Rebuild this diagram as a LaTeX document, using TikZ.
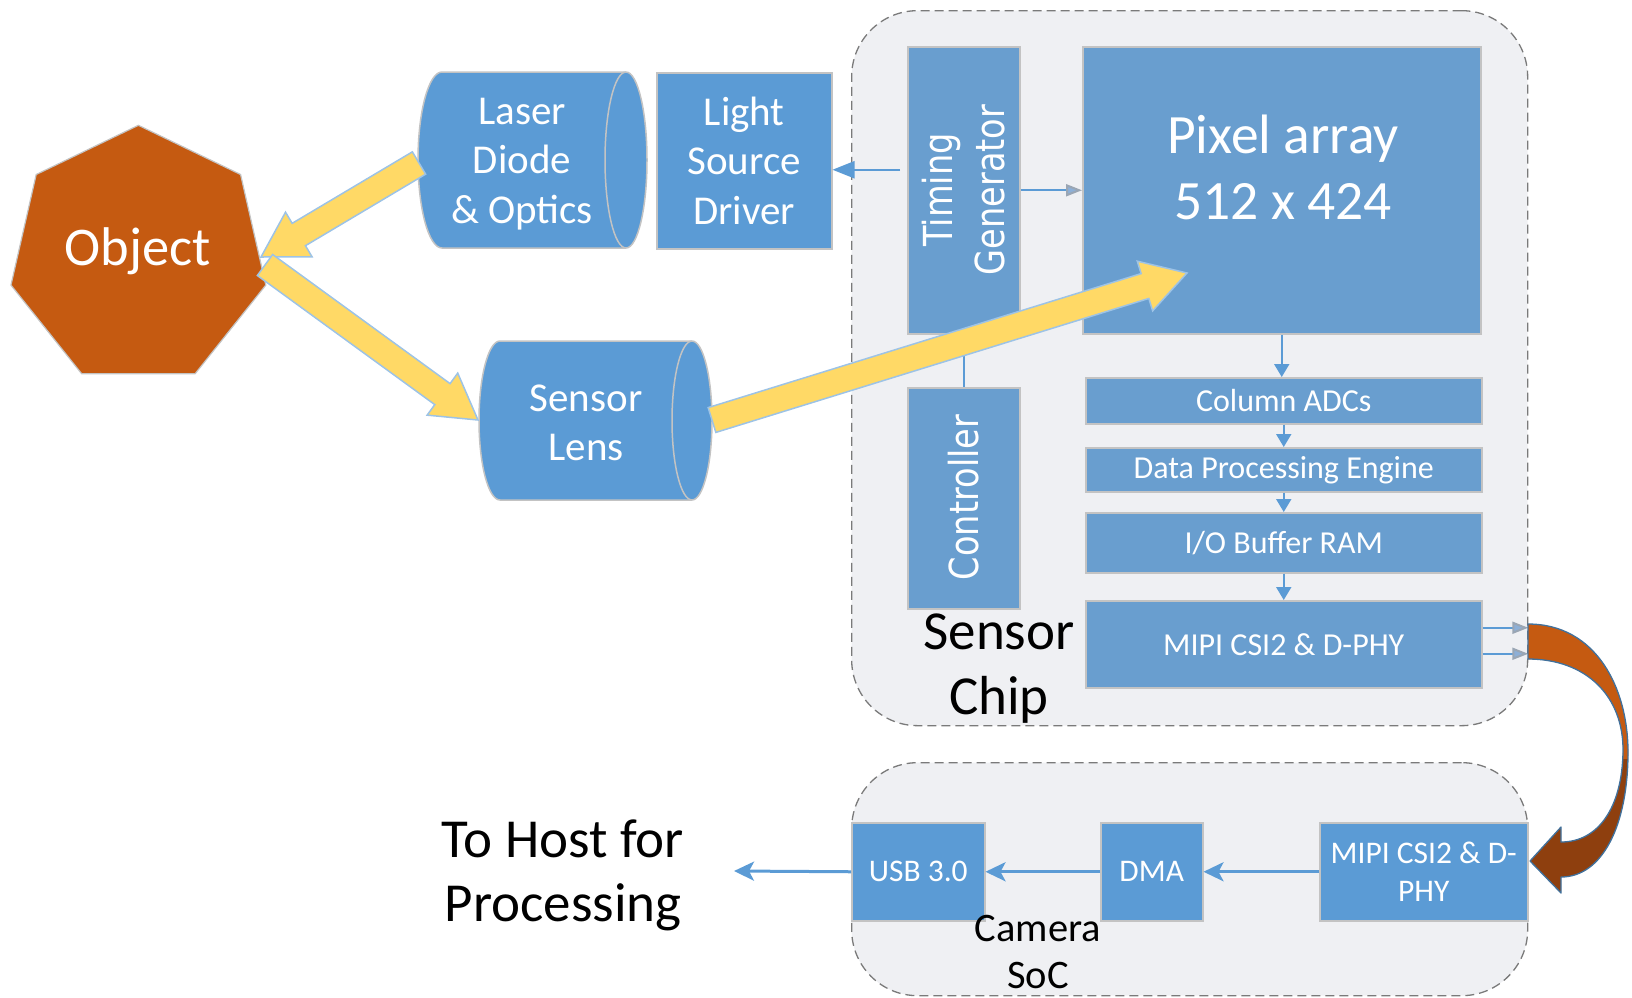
\documentclass[tikz,border=0pt]{standalone}
\usepackage{fontspec}
\setmainfont{Carlito}
\newfontfamily\vertfont[FakeStretch=0.84]{DejaVu Sans}
\usetikzlibrary{arrows.meta,calc}

\definecolor{boxblue}{HTML}{5B9BD5}
\definecolor{chipblue}{HTML}{699ECF}
\definecolor{boxedge}{HTML}{C3C3C3}
\definecolor{panel}{HTML}{EFF0F3}
\definecolor{panelline}{HTML}{7A7A7A}
\definecolor{beamfill}{HTML}{FFD966}
\definecolor{beamedge}{HTML}{9DC3E6}
\definecolor{rust}{HTML}{C55A11}
\definecolor{rustdark}{HTML}{8E3F0E}
\definecolor{rustedge}{HTML}{41719C}
\definecolor{wire}{HTML}{5B9BD5}
\definecolor{tipfill}{HTML}{8DAFD6}
\definecolor{tipedge}{HTML}{9AA6B4}

\newcommand\fs[2]{\fontsize{#1}{#2}\selectfont}

% fat two-sided beam arrow from #1 (tail) to #2 (tip)
\newcommand\beamarrow[2]{%
  \coordinate (bm-c) at ($(#2)!44pt!(#1)$);
  \draw[beam] ($(#1)!13pt!90:(#2)$) -- ($(bm-c)!13pt!90:(#2)$)
    -- ($(bm-c)!26pt!90:(#2)$) -- (#2) -- ($(bm-c)!26pt!-90:(#2)$)
    -- ($(bm-c)!13pt!-90:(#2)$) -- ($(#1)!13pt!-90:(#2)$) -- cycle;}

% outline of the curved link between the two MIPI blocks
\newcommand\bendshape{(1528,624) .. controls (1596,624) and (1628,688) .. (1628,752)
  .. controls (1628,826) and (1602,877) .. (1561,877) -- (1561,893) -- (1530,861)
  -- (1561,827) -- (1561,842) .. controls (1598,842) and (1622,808) .. (1623,752)
  .. controls (1624,696) and (1586,659) .. (1528,659) -- cycle}

\begin{document}
\begin{tikzpicture}[x=1pt,y=-1pt,
  panelbox/.style={draw=panelline, dash pattern=on 9pt off 5pt, line width=1.3pt,
    fill=panel, rounded corners=66pt, inner sep=0pt},
  block/.style={draw=boxedge, line width=1.5pt, fill=boxblue, inner sep=0pt,
    text=white, align=center},
  chipblock/.style={block, fill=chipblue},
  wtext/.style={text=white, align=center, inner sep=0pt},
  vtext/.style={wtext, rotate=90},
  ltext/.style={text=black, align=center, inner sep=0pt},
  beam/.style={fill=beamfill, draw=beamedge, line width=1.5pt, line join=miter},
  wire/.style={draw=wire, line width=2.2pt},
  tipA/.style={wire, -{Triangle[length=22pt,width=17pt]}},
  tipS/.style={wire, line width=2pt, -{Triangle[length=13pt,width=15pt]}},
  tipG/.style={wire, line width=2pt, -{Triangle[length=16pt,width=12pt,color=tipedge,fill=tipfill]}},
  tipB/.style={wire, line width=3pt, -{Stealth[length=20pt,width=19pt,inset=5pt]}},
]
\useasboundingbox (0,0) rectangle (1632,997);

% containers
\node[panelbox, anchor=north west, minimum width=676pt, minimum height=715pt] (chip) at (851,10) {};
\node[panelbox, anchor=north west, minimum width=676pt, minimum height=233pt] (soc) at (851,762) {};

% object
\coordinate (objc) at (138.4,256);
\draw[fill=rust, draw=boxedge, line width=1.2pt] (objc) +(90:130.7pt) -- +(141.43:130.7pt)
  -- +(192.86:130.7pt) -- +(244.29:130.7pt) -- +(295.71:130.7pt) -- +(347.14:130.7pt)
  -- +(38.57:130.7pt) -- cycle;
\node[wtext, font=\fs{54.5}{60}] (obj) at (138,251) {Object};

% laser diode and optics
\draw[block] (442,72) -- (626,72) arc[start angle=90, end angle=-90, x radius=21pt, y radius=88pt]
  -- (442,248) arc[start angle=270, end angle=90, x radius=24pt, y radius=88pt] -- cycle;
\draw[draw=boxedge, line width=1.5pt] (626,72) arc[start angle=90, end angle=270, x radius=21pt, y radius=88pt];
\node[wtext, font=\fs{41}{49.5}] (laser) at (522,164) {Laser\\Diode\\\& Optics};

% sensor lens
\draw[block] (500,341) -- (692,341) arc[start angle=90, end angle=-90, x radius=20pt, y radius=79.5pt]
  -- (500,500) arc[start angle=270, end angle=90, x radius=21pt, y radius=79.5pt] -- cycle;
\draw[draw=boxedge, line width=1.5pt] (692,341) arc[start angle=90, end angle=270, x radius=20pt, y radius=79.5pt];
\node[wtext, font=\fs{41}{49.5}] (lens) at (586,423) {Sensor\\Lens};

% light source driver
\node[block, anchor=north west, minimum width=175pt, minimum height=176pt, font=\fs{41}{49.5}] (lsd) at (656,72) {Light\\Source\\Driver};

% sensor chip blocks
\node[chipblock, anchor=north west, minimum width=112pt, minimum height=287pt] (tg) at (907,46) {};
\node[vtext, font=\vertfont\fs{40}{51.5}] (tgtxt) at (963.5,190) {Timing\\Generator};
\node[chipblock, anchor=north west, minimum width=398pt, minimum height=287pt] (pix) at (1082,46) {};
\node[wtext, font=\fs{55.5}{66}] (pixtxt) at (1283,167) {Pixel array\\512 x 424};
\node[chipblock, anchor=north west, minimum width=112pt, minimum height=221pt] (ctl) at (907,387) {};
\node[vtext, font=\vertfont\fs{40}{48}] (ctltxt) at (964,497.5) {Controller};
\node[chipblock, anchor=north west, minimum width=396pt, minimum height=46pt, font=\fs{32}{38}] (adc) at (1085,377) {Column ADCs};
\node[chipblock, anchor=north west, minimum width=396pt, minimum height=44pt, font=\fs{32}{38}] (dpe) at (1085,447) {Data Processing Engine};
\node[chipblock, anchor=north west, minimum width=396pt, minimum height=60pt, font=\fs{32}{38}] (iob) at (1085,512) {I/O Buffer RAM};
\node[chipblock, anchor=north west, minimum width=396pt, minimum height=87pt, font=\fs{32}{38}] (mipi) at (1085,600) {MIPI CSI2 \& D-PHY};
\node[ltext, font=\fs{55}{65}] (chiplbl) at (999,669) {Sensor\\Chip};

% camera SoC blocks
\node[block, anchor=north west, minimum width=133pt, minimum height=98pt, font=\fs{31.5}{38.5}] (usb) at (851,822) {USB 3.0};
\node[block, anchor=north west, minimum width=102pt, minimum height=98pt, font=\fs{31.5}{38.5}] (dma) at (1100,822) {DMA};
\node[block, anchor=north west, minimum width=208pt, minimum height=98pt, font=\fs{31.5}{38.5}] (smipi) at (1319,822) {MIPI CSI2 \& D-\\PHY};
\node[ltext, font=\fs{40.5}{47}] (soclbl) at (1038,952) {Camera\\SoC};
\node[ltext, font=\fs{55}{64}] (host) at (563,875) {To Host for\\Processing};

% control and data connectors
\coordinate (lsdin) at ([yshift=-9pt]lsd.east);
\coordinate (tgl) at (lsdin -| tg.west);
\draw[tipA] ([xshift=-7pt]tgl) -- (lsdin);
\draw[tipG] (tg.east) -- (pix.west);
\draw[wire, line width=2pt] (tg.south) -- (ctl.north);
\draw[tipS] (pix.south) -- (pix.south |- adc.north);
\draw[tipS] (adc.south) -- (dpe.north);
\draw[tipS] (dpe.south) -- (iob.north);
\draw[tipS] (iob.south) -- (mipi.north);
\coordinate (mo1) at ([yshift=16.5pt]mipi.east);
\coordinate (mo2) at ([yshift=-9.5pt]mipi.east);
\draw[tipG] (mo1) -- (mo1 -| chip.east);
\draw[tipG] (mo2) -- (mo2 -| chip.east);
\draw[tipB] (smipi.west) -- (dma.east);
\draw[tipB] (dma.west) -- (usb.east);
\coordinate (hostin) at (734,871);
\draw[tipB] (usb.west) -- (hostin);

% light paths
\coordinate (b1t) at (419,163);
\coordinate (b1h) at (261,257);
\coordinate (b2t) at (265,265);
\coordinate (b2h) at (478,420);
\coordinate (b3t) at (712,420);
\coordinate (b3h) at (1187,273);
\beamarrow{b1t}{b1h}
\beamarrow{b2t}{b2h}
\beamarrow{b3t}{b3h}

% curved link from the sensor chip to the SoC
\fill[rustdark] \bendshape;
\begin{scope}
  \clip (1500,600) rectangle (1632,758);
  \fill[rust] \bendshape;
\end{scope}
\draw[rustedge, line width=1.3pt, line join=round] \bendshape;
\end{tikzpicture}
\end{document}
